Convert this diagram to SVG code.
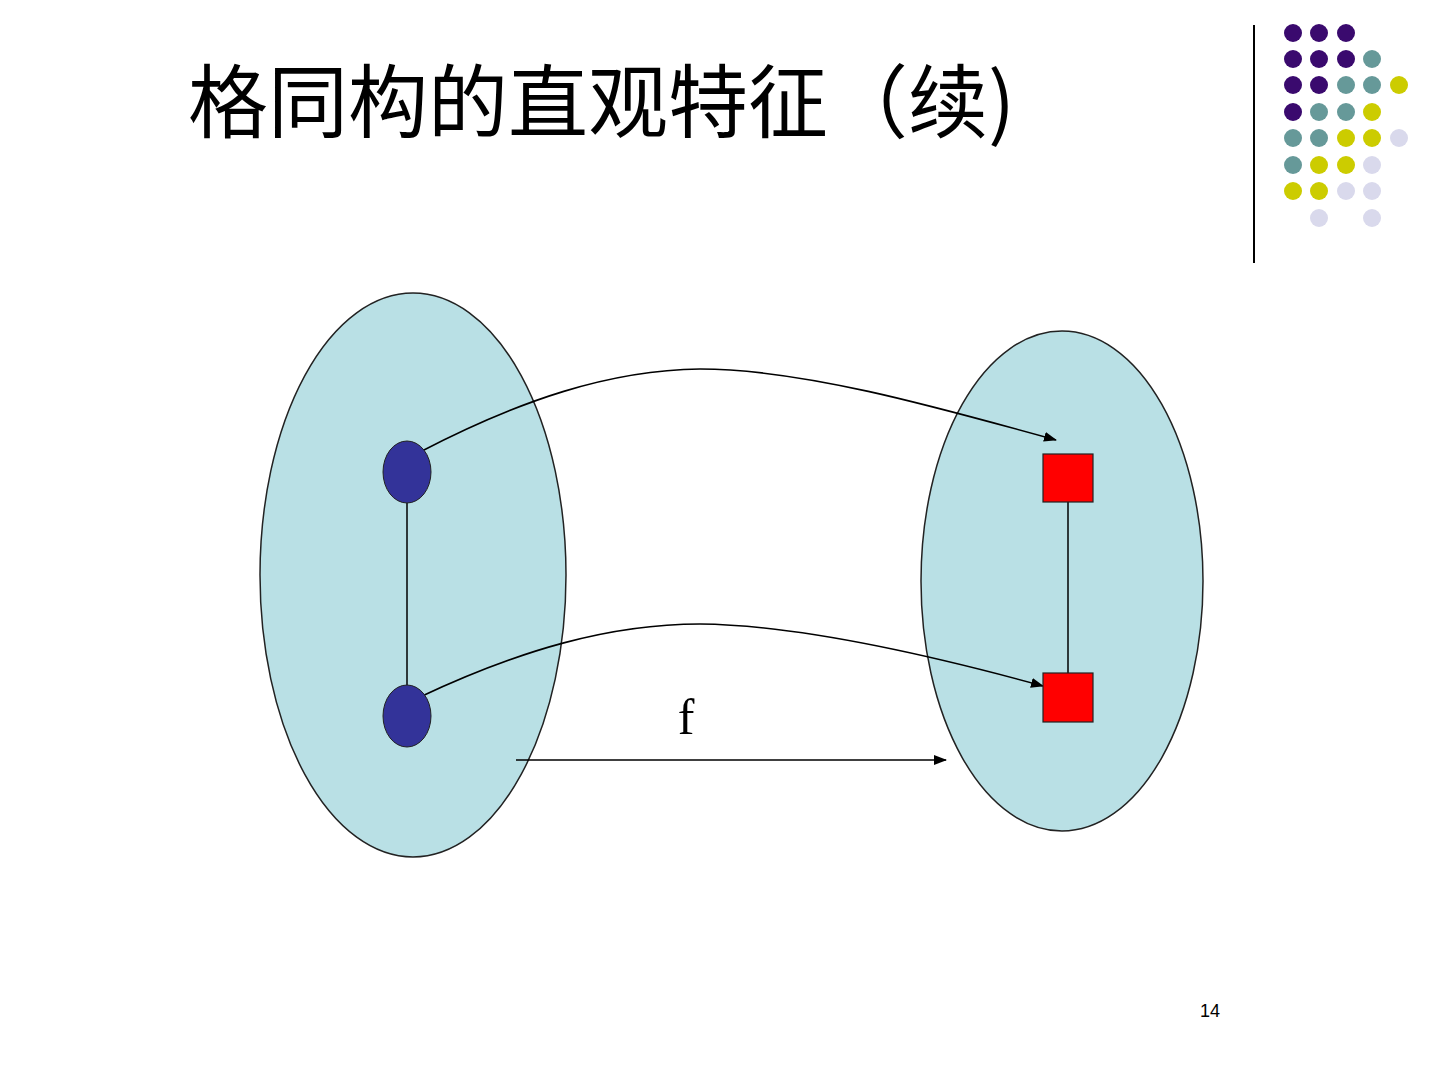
<svg xmlns="http://www.w3.org/2000/svg" width="1440" height="1080" viewBox="0 0 1440 1080">
<defs>
<style>
.set{fill:#B9E0E5;stroke:#222;stroke-width:1.5}
.pt{fill:#333399;stroke:#222;stroke-width:1}
.sq{fill:#FF0000;stroke:#222;stroke-width:1.2}
.edge{stroke:#000;stroke-width:1.5;fill:none}
.map{stroke:#000;stroke-width:1.6;fill:none;marker-end:url(#ah)}
.p{fill:#3A0A6E}.t{fill:#669999}.y{fill:#CCCC00}.l{fill:#D9D9EC}
</style>
<marker id="ah" markerWidth="13" markerHeight="10" refX="12" refY="5" orient="auto" markerUnits="userSpaceOnUse">
<path d="M0,0 L13,5 L0,10 z" fill="#000"/>
</marker>
</defs>
<rect width="1440" height="1080" fill="#fff"/>
<text x="188" y="131" font-family="Noto Sans CJK SC, sans-serif" font-size="80" fill="#000">格同构的直观特征（续)</text>
<line x1="1254" y1="25" x2="1254" y2="263" stroke="#000" stroke-width="2"/>
<g id="dots">
<circle class="p" cx="1293" cy="33" r="9"/><circle class="p" cx="1319" cy="33" r="9"/><circle class="p" cx="1346" cy="33" r="9"/>
<circle class="p" cx="1293" cy="59" r="9"/><circle class="p" cx="1319" cy="59" r="9"/><circle class="p" cx="1346" cy="59" r="9"/><circle class="t" cx="1372" cy="59" r="9"/>
<circle class="p" cx="1293" cy="85" r="9"/><circle class="p" cx="1319" cy="85" r="9"/><circle class="t" cx="1346" cy="85" r="9"/><circle class="t" cx="1372" cy="85" r="9"/><circle class="y" cx="1399" cy="85" r="9"/>
<circle class="p" cx="1293" cy="112" r="9"/><circle class="t" cx="1319" cy="112" r="9"/><circle class="t" cx="1346" cy="112" r="9"/><circle class="y" cx="1372" cy="112" r="9"/>
<circle class="t" cx="1293" cy="138" r="9"/><circle class="t" cx="1319" cy="138" r="9"/><circle class="y" cx="1346" cy="138" r="9"/><circle class="y" cx="1372" cy="138" r="9"/><circle class="l" cx="1399" cy="138" r="9"/>
<circle class="t" cx="1293" cy="165" r="9"/><circle class="y" cx="1319" cy="165" r="9"/><circle class="y" cx="1346" cy="165" r="9"/><circle class="l" cx="1372" cy="165" r="9"/>
<circle class="y" cx="1293" cy="191" r="9"/><circle class="y" cx="1319" cy="191" r="9"/><circle class="l" cx="1346" cy="191" r="9"/><circle class="l" cx="1372" cy="191" r="9"/>
<circle class="l" cx="1319" cy="218" r="9"/><circle class="l" cx="1372" cy="218" r="9"/>
</g>
<g id="setA"><ellipse class="set" cx="413" cy="575" rx="153" ry="282"/></g>
<g id="setB"><ellipse class="set" cx="1062" cy="581" rx="141" ry="250"/></g>
<g id="connectors">
<line class="edge" x1="407" y1="503" x2="407" y2="685"/>
<line class="edge" x1="1068" y1="502" x2="1068" y2="673"/>
<path class="map" d="M420,452 C520,400 610,370 700,369 C800,369 930,405 1056,440"/>
<path class="map" d="M420,697 C520,650 610,624 700,624 C800,625 930,655 1043,686"/>
<line class="map" x1="516" y1="760" x2="946" y2="760"/>
</g>
<g id="a1"><ellipse class="pt" cx="407" cy="472" rx="24" ry="31"/></g>
<g id="a2"><ellipse class="pt" cx="407" cy="716" rx="24" ry="31"/></g>
<g id="b1"><rect class="sq" x="1043" y="454" width="50" height="48"/></g>
<g id="b2"><rect class="sq" x="1043" y="673" width="50" height="49"/></g>
<text x="686" y="734" font-family="Liberation Serif, serif" font-size="50" text-anchor="middle" fill="#000">f</text>
<text x="1210" y="1017" font-family="Liberation Sans, sans-serif" font-size="18" text-anchor="middle" fill="#000">14</text>
</svg>
